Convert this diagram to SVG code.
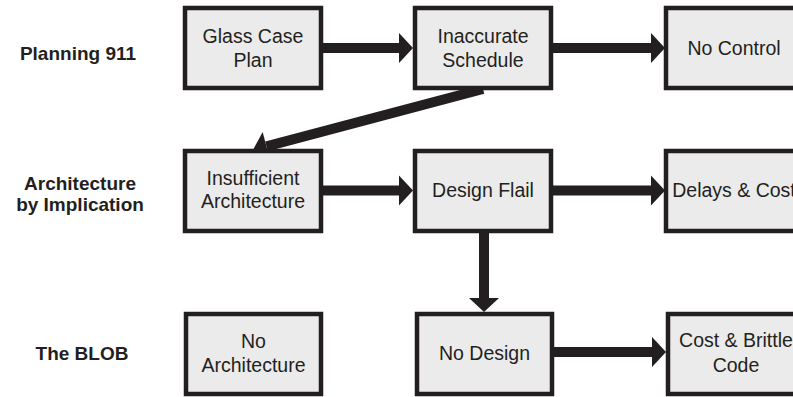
<svg xmlns="http://www.w3.org/2000/svg" width="793" height="397" viewBox="0 0 793 397">
<style>
.box{fill:#ebebeb;stroke:#231f20;stroke-width:4.5}
.t{font-family:"Liberation Sans",Arial,sans-serif;font-size:19.5px;fill:#231f20;text-anchor:middle}
.lbl{font-family:"Liberation Sans",Arial,sans-serif;font-size:19px;font-weight:bold;fill:#231f20;text-anchor:middle}
.c{stroke:#231f20;stroke-width:10;fill:none;marker-end:url(#ah)}
</style>
<defs>
<marker id="ah" markerUnits="userSpaceOnUse" markerWidth="14" markerHeight="30" viewBox="0 0 14 30" refX="0" refY="15" orient="auto" overflow="visible">
<path d="M0,0 L14,15 L0,30 Z" fill="#231f20"/>
</marker>
</defs>
<rect width="793" height="397" fill="#ffffff"/>
<g id="row-labels">
<text class="lbl" x="78" y="60">Planning 911</text>
<text class="lbl" x="80" y="190">Architecture</text>
<text class="lbl" x="80" y="211">by Implication</text>
<text class="lbl" x="82" y="360">The BLOB</text>
</g>
<g id="connectors">
<line class="c" x1="323" y1="48" x2="399" y2="48"/>
<line class="c" x1="553" y1="48" x2="651" y2="48"/>
<line class="c" x1="483" y1="89" x2="266.5" y2="146.4"/>
<line class="c" x1="323" y1="190.5" x2="399" y2="190.5"/>
<line class="c" x1="553" y1="190.5" x2="651" y2="190.5"/>
<line class="c" x1="484" y1="233" x2="484" y2="298"/>
<line class="c" x1="554" y1="352" x2="652" y2="352"/>
</g>
<g id="glass-case-plan">
<rect class="box" x="185" y="8" width="136" height="80"/>
<text class="t" x="253" y="43">Glass Case</text>
<text class="t" x="253" y="67">Plan</text>
</g>
<g id="inaccurate-schedule">
<rect class="box" x="415" y="8" width="136" height="80"/>
<text class="t" x="483" y="43">Inaccurate</text>
<text class="t" x="483" y="67">Schedule</text>
</g>
<g id="no-control">
<rect class="box" x="666" y="8" width="136" height="80"/>
<text class="t" x="734" y="55">No Control</text>
</g>
<g id="insufficient-architecture">
<rect class="box" x="185" y="151" width="136" height="80"/>
<text class="t" x="253" y="185">Insufficient</text>
<text class="t" x="253" y="208">Architecture</text>
</g>
<g id="design-flail">
<rect class="box" x="415" y="151" width="136" height="80"/>
<text class="t" x="483" y="197">Design Flail</text>
</g>
<g id="delays-cost">
<rect class="box" x="666" y="151" width="136" height="80"/>
<text class="t" x="734" y="197">Delays &amp; Cost</text>
</g>
<g id="no-architecture">
<rect class="box" x="186" y="314" width="135" height="80"/>
<text class="t" x="253.5" y="347.5">No</text>
<text class="t" x="253.5" y="371.5">Architecture</text>
</g>
<g id="no-design">
<rect class="box" x="417" y="314" width="135" height="80"/>
<text class="t" x="484.5" y="360">No Design</text>
</g>
<g id="cost-brittle-code">
<rect class="box" x="668" y="314" width="136" height="80"/>
<text class="t" x="736" y="347">Cost &amp; Brittle</text>
<text class="t" x="736" y="371.5">Code</text>
</g>
</svg>
